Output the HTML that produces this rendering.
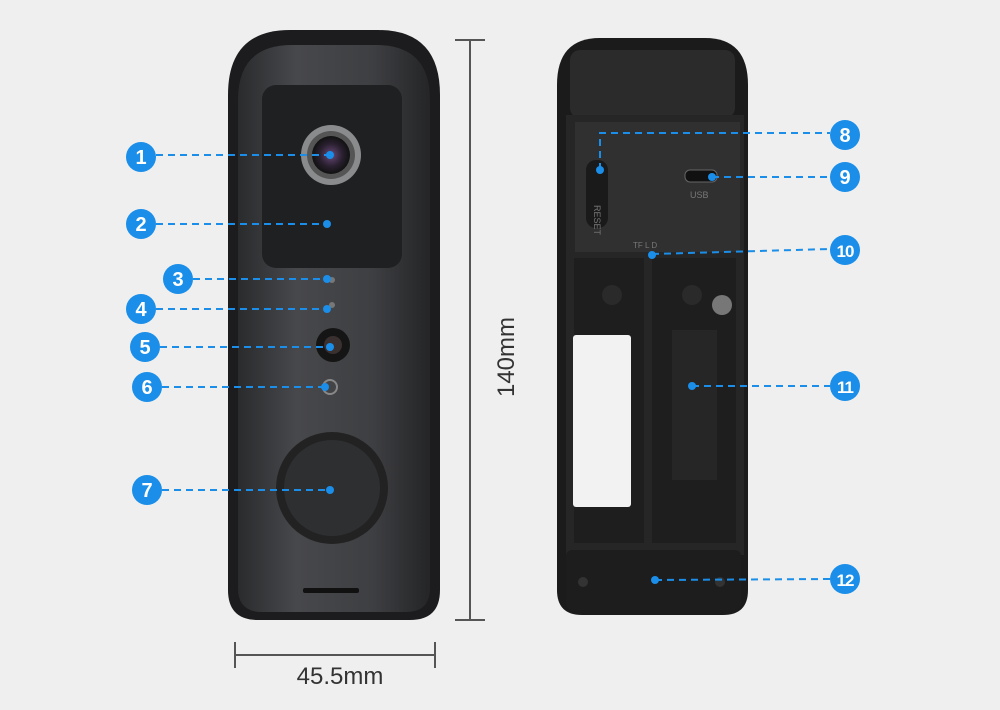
<!DOCTYPE html>
<html><head><style>body{margin:0;background:#efefef}svg{display:block}</style></head><body>
<svg width="1000" height="710" viewBox="0 0 1000 710" xmlns="http://www.w3.org/2000/svg" font-family="Liberation Sans, sans-serif">
<defs>
<linearGradient id="face" x1="0" x2="1"><stop offset="0" stop-color="#2a2b2d"/><stop offset="0.3" stop-color="#47484b"/><stop offset="0.7" stop-color="#3e3f42"/><stop offset="1" stop-color="#242527"/></linearGradient>
<radialGradient id="lens"><stop offset="0" stop-color="#6a4a7a"/><stop offset="0.6" stop-color="#2a2030"/><stop offset="1" stop-color="#111"/></radialGradient>
</defs>
<rect width="1000" height="710" fill="#efefef"/>
<!-- left device -->
<path d="M228,95 Q228,30 290,30 L378,30 Q440,30 440,95 L440,590 Q440,620 410,620 L258,620 Q228,620 228,590 Z" fill="#1c1c1e"/>
<path d="M238,100 Q238,45 292,45 L376,45 Q430,45 430,100 L430,588 Q430,612 406,612 L262,612 Q238,612 238,588 Z" fill="url(#face)"/>
<rect x="262" y="85" width="140" height="183" rx="14" fill="#1f2022"/>
<circle cx="331" cy="155" r="30" fill="#8a8b8d"/>
<circle cx="331" cy="155" r="24" fill="#555"/>
<circle cx="331" cy="155" r="19" fill="url(#lens)"/>
<circle cx="332" cy="280" r="3" fill="#777"/>
<circle cx="332" cy="305" r="3" fill="#777"/>
<circle cx="333" cy="345" r="17" fill="#151515"/>
<circle cx="333" cy="345" r="9" fill="#3a3030"/>
<circle cx="330" cy="387" r="7" fill="none" stroke="#888" stroke-width="2"/>
<circle cx="332" cy="488" r="56" fill="#222"/>
<circle cx="332" cy="488" r="48" fill="#2e2f31"/>
<rect x="303" y="588" width="56" height="5" rx="2" fill="#111"/>
<!-- right device -->
<path d="M557,85 Q557,38 600,38 L705,38 Q748,38 748,85 L748,590 Q748,615 723,615 L582,615 Q557,615 557,590 Z" fill="#1b1b1b"/>
<rect x="570" y="50" width="165" height="68" rx="10" fill="#2b2b2b"/>
<rect x="566" y="115" width="178" height="440" fill="#262626"/>
<rect x="575" y="122" width="165" height="130" fill="#303030"/>
<rect x="586" y="160" width="22" height="68" rx="10" fill="#1a1a1a"/>
<text x="594" y="205" font-size="9" fill="#777" transform="rotate(90 594 205)">RESET</text>
<rect x="685" y="170" width="32" height="12" rx="5" fill="#111" stroke="#666"/>
<text x="690" y="198" font-size="9" fill="#777">USB</text>
<text x="633" y="248" font-size="8" fill="#777">TF L D</text>
<rect x="574" y="258" width="70" height="285" fill="#1e1e1e"/>
<rect x="652" y="258" width="84" height="285" fill="#1e1e1e"/>
<rect x="573" y="335" width="58" height="172" rx="3" fill="#f2f2f2"/>
<circle cx="612" cy="295" r="10" fill="#2a2a2a"/><circle cx="692" cy="295" r="10" fill="#2a2a2a"/>
<circle cx="722" cy="305" r="10" fill="#777"/>
<rect x="672" y="330" width="45" height="150" fill="#262626"/>
<rect x="566" y="550" width="175" height="60" rx="6" fill="#1d1d1d"/>
<circle cx="583" cy="582" r="5" fill="#333"/><circle cx="720" cy="582" r="5" fill="#333"/>
<!-- dimensions -->
<g stroke="#555" stroke-width="2" fill="none">
<line x1="470" y1="40" x2="470" y2="620"/><line x1="455" y1="40" x2="485" y2="40"/><line x1="455" y1="620" x2="485" y2="620"/>
<line x1="235" y1="655" x2="435" y2="655"/><line x1="235" y1="642" x2="235" y2="668"/><line x1="435" y1="642" x2="435" y2="668"/>
</g>
<text x="514" y="357" font-size="24" fill="#333" text-anchor="middle" transform="rotate(-90 514 357)">140mm</text>
<text x="340" y="684" font-size="24" fill="#333" text-anchor="middle">45.5mm</text>
<!-- callouts -->
<g stroke="#1a8ee8" stroke-width="2" stroke-dasharray="7,5" fill="none">
<line x1="156" y1="155" x2="330" y2="155"/><line x1="156" y1="224" x2="327" y2="224"/>
<line x1="193" y1="279" x2="327" y2="279"/><line x1="156" y1="309" x2="327" y2="309"/>
<line x1="160" y1="347" x2="330" y2="347"/><line x1="162" y1="387" x2="325" y2="387"/>
<line x1="162" y1="490" x2="330" y2="490"/>
<polyline points="600,170 600,133 830,133"/><line x1="712" y1="177" x2="830" y2="177"/>
<line x1="652" y1="254" x2="830" y2="249"/><line x1="692" y1="386" x2="830" y2="386"/>
<line x1="655" y1="580" x2="830" y2="579"/>
</g>
<g fill="#1a8ee8">
<circle cx="330" cy="155" r="4"/><circle cx="327" cy="224" r="4"/><circle cx="327" cy="279" r="4"/><circle cx="327" cy="309" r="4"/><circle cx="330" cy="347" r="4"/><circle cx="325" cy="387" r="4"/><circle cx="330" cy="490" r="4"/>
<circle cx="600" cy="170" r="4"/><circle cx="712" cy="177" r="4"/><circle cx="652" cy="255" r="4"/><circle cx="692" cy="386" r="4"/><circle cx="655" cy="580" r="4"/>
<circle cx="141" cy="157" r="15"/><circle cx="141" cy="224" r="15"/><circle cx="178" cy="279" r="15"/><circle cx="141" cy="309" r="15"/><circle cx="145" cy="347" r="15"/><circle cx="147" cy="387" r="15"/><circle cx="147" cy="490" r="15"/>
<circle cx="845" cy="135" r="15"/><circle cx="845" cy="177" r="15"/><circle cx="845" cy="250" r="15"/><circle cx="845" cy="386" r="15"/><circle cx="845" cy="579" r="15"/>
</g>
<g fill="#fff" font-size="20" font-weight="bold" text-anchor="middle">
<text x="141" y="164">1</text><text x="141" y="231">2</text><text x="178" y="286">3</text><text x="141" y="316">4</text><text x="145" y="354">5</text><text x="147" y="394">6</text><text x="147" y="497">7</text>
<text x="845" y="142">8</text><text x="845" y="184">9</text>
<text x="845" y="257" font-size="17" letter-spacing="-1">10</text><text x="845" y="393" font-size="17" letter-spacing="-1">11</text><text x="845" y="586" font-size="17" letter-spacing="-1">12</text>
</g>
</svg>
</body></html>
